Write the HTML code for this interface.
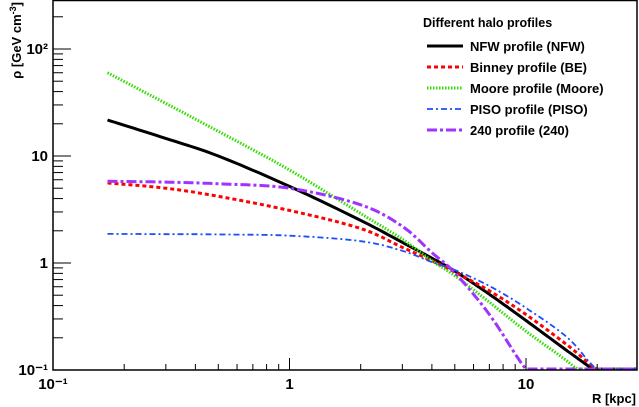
<!DOCTYPE html>
<html><head><meta charset="utf-8"><style>
html,body{margin:0;padding:0;background:#fff;}
svg{display:block;font-family:"Liberation Sans",sans-serif;}
</style></head><body>
<svg id="chart" width="639" height="407" viewBox="0 0 639 407" xmlns="http://www.w3.org/2000/svg">
<rect x="0" y="0" width="639" height="407" fill="#fff"/>
<g id="plot"></g>
<g id="axes"></g>
<g id="legend"></g>
</svg>
<script>
const rValues = [0.17, 0.3, 0.5, 1, 2, 3, 4, 5, 7, 10, 15, 20, 30];
const nfwValues = [21.7, 14.6, 10.0, 5.2, 2.5, 1.56, 1.11, 0.84, 0.51, 0.29, 0.15, 0.095, 0.05];
const binneyValues = [5.6, 5.0, 4.2, 3.1, 2.1, 1.4, 1.05, 0.82, 0.55, 0.33, 0.17, 0.1, 0.05];
const mooreValues = [60, 31, 17, 7.4, 2.9, 1.67, 1.05, 0.76, 0.43, 0.23, 0.12, 0.07, 0.04];
const pisoValues = [1.87, 1.86, 1.85, 1.8, 1.6, 1.3, 1.02, 0.86, 0.61, 0.38, 0.2, 0.1, 0.05];
const p240Values = [5.8, 5.7, 5.5, 5.0, 3.5, 2.2, 1.25, 0.81, 0.33, 0.1, 0.03, 0.01, 0.005];
const xTickLabels = ["10⁻¹", "1", "10"];
const yTickLabels = ["10⁻¹", "1", "10", "10²"];
const seriesNames = ["NFW profile (NFW)", "Binney profile (BE)", "Moore profile (Moore)", "PISO profile (PISO)", "240 profile (240)"];

const NS = "http://www.w3.org/2000/svg";
const L = 53, R = 637, T = 0, B = 370;
const xDec = 236.5, yDec = 107;
const yMin = 0.1, xMax = Math.pow(10, -1 + (R - L) / xDec);
function xs(r){ return L + (Math.log10(r) + 1) * xDec; }
function ysRaw(v){ return B - (Math.log10(v) + 1) * yDec; }
function mk(tag, attrs, parent){ const e = document.createElementNS(NS, tag); for (const k in attrs) e.setAttribute(k, attrs[k]); parent.appendChild(e); return e; }

const plot = document.getElementById('plot');
const axes = document.getElementById('axes');
const legend = document.getElementById('legend');

const styles = [
  {c:"#000", w:3, d:"", key:"nfw"},
  {c:"#ff0000", w:3, d:"4,3", key:"binney"},
  {c:"#33dd00", w:3, d:"1.5,1.5", key:"moore"},
  {c:"#1a4dff", w:1.8, d:"6,3,2,3", key:"piso"},
  {c:"#a033ff", w:3, d:"10,3,3,3", key:"p240"}
];
const allSeries = [nfwValues, binneyValues, mooreValues, pisoValues, p240Values];

// smooth curve (Catmull-Rom) through data points, then clamp to bottom axis
function smoothPts(vals){
  const P = vals.map((v, j) => [xs(rValues[j]), ysRaw(v)]);
  const out = [];
  for (let i = 0; i < P.length - 1; i++) {
    const p0 = P[Math.max(i-1,0)], p1 = P[i], p2 = P[i+1], p3 = P[Math.min(i+2,P.length-1)];
    for (let k = 0; k < 12; k++) {
      const t = k / 12, t2 = t*t, t3 = t2*t;
      const f = (a,b,c,d) => 0.5*((2*b) + (-a+c)*t + (2*a-5*b+4*c-d)*t2 + (-a+3*b-3*c+d)*t3);
      out.push([f(p0[0],p1[0],p2[0],p3[0]), f(p0[1],p1[1],p2[1],p3[1])]);
    }
  }
  out.push(P[P.length-1]);
  return out;
}

const cp = mk('clipPath', {id:'clip'}, plot);
mk('rect', {x:L, y:T, width:R-L, height:B-T+2}, cp);

allSeries.forEach((vals, i) => {
  const s = styles[i];
  const pts = smoothPts(vals);
  let d = "";
  pts.forEach((p, j) => { d += (j ? "L" : "M") + p[0].toFixed(1) + "," + Math.min(p[1], B - 1).toFixed(1); });
  const p = mk('path', {d:d, fill:"none", stroke:s.c, "stroke-width":s.w, "stroke-dasharray":s.d, "stroke-linejoin":"round", "clip-path":"url(#clip)"}, plot);
  
  
});

const fr = mk('rect', {x:L, y:T+0.5, width:R-L, height:B-T-0.5, fill:"none", stroke:"#000", "stroke-width":1.5}, axes);



for (let dec = -1; dec <= 1; dec++) {
  for (let m = 1; m <= 9; m++) {
    const r = m * Math.pow(10, dec);
    if (r > xMax) break;
    const x = xs(r);
    const len = m === 1 ? 12 : 6;
    mk('line', {x1:x, y1:B, x2:x, y2:B-len, stroke:"#000", "stroke-width":1}, axes);
  }
}
xTickLabels.forEach((lab, i) => {
  const t = mk('text', {x:xs(Math.pow(10, i-1)), y:389, "text-anchor":"middle", "font-size":15, "font-weight":"bold"}, axes);
  t.textContent = lab;
  
  
});
for (let dec = -1; dec <= 2; dec++) {
  for (let m = 1; m <= 9; m++) {
    const v = m * Math.pow(10, dec);
    const y = ysRaw(v);
    if (y < T) break;
    const len = m === 1 ? 18 : 10;
    mk('line', {x1:L, y1:y, x2:L+len, y2:y, stroke:"#000", "stroke-width":1}, axes);
  }
}
yTickLabels.forEach((lab, i) => {
  const t = mk('text', {x:48, y:ysRaw(Math.pow(10, i-1))+5, "text-anchor":"end", "font-size":15, "font-weight":"bold"}, axes);
  t.textContent = lab;
  
  
});
const xt = mk('text', {x:636, y:403, "text-anchor":"end", "font-size":13, "font-weight":"bold"}, axes);
xt.textContent = "R [kpc]";


const yt = mk('text', {x:0, y:0, "text-anchor":"end", "font-size":13, "font-weight":"bold", transform:"translate(21,2) rotate(-90)"}, axes);
yt.innerHTML = 'ρ [GeV cm<tspan baseline-shift="super" font-size="9">-3</tspan>]';



const lt = mk('text', {x:423, y:27, "font-size":12.5, "font-weight":"bold"}, legend);
lt.textContent = "Different halo profiles";


seriesNames.forEach((name, i) => {
  const y = 46 + i * 21;
  const s = styles[i];
  const ln = mk('line', {x1:427, y1:y, x2:463, y2:y, stroke:s.c, "stroke-width":s.w, "stroke-dasharray":s.d}, legend);
  
  
  const t = mk('text', {x:470, y:y+5, "font-size":13, "font-weight":"bold"}, legend);
  t.textContent = name;
  
  
});
</script>
</body></html>
